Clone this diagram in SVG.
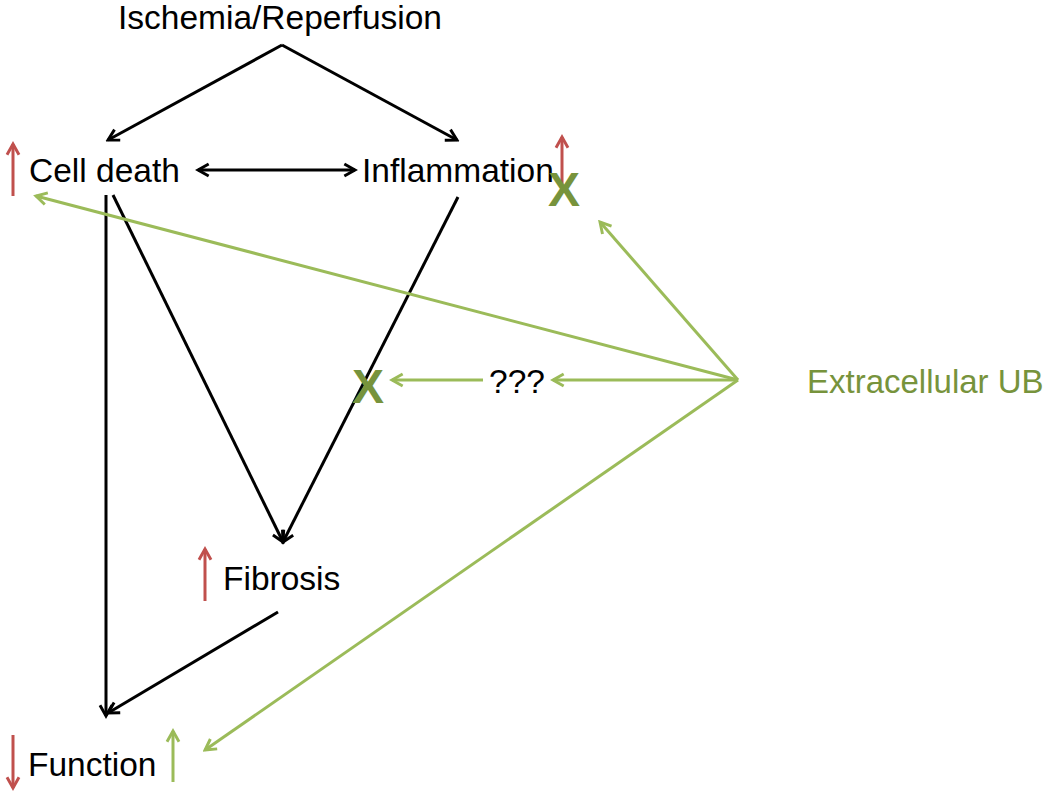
<svg xmlns="http://www.w3.org/2000/svg" width="1044" height="793" viewBox="0 0 1044 793">
<style>
text{font-family:"Liberation Sans",Arial,sans-serif;font-size:33.5px;fill:#000}
.k{stroke:#000;stroke-width:3;fill:none}
.g{stroke:#9bbb59;stroke-width:3;fill:none}
.r{stroke:#c0504d;stroke-width:3;fill:none}
.gx{fill:#77933c;font-weight:bold;font-size:48px}
.gt{fill:#77933c;font-size:33px}
</style>
<defs>
<marker id="ak" viewBox="0 0 12 12" refX="10" refY="6" markerWidth="16" markerHeight="16" markerUnits="userSpaceOnUse" orient="auto-start-reverse"><path d="M2,1.5 L10,6 L2,10.5" fill="none" stroke="#000" stroke-width="2.2"/></marker>
<marker id="ag" viewBox="0 0 12 12" refX="10" refY="6" markerWidth="16" markerHeight="16" markerUnits="userSpaceOnUse" orient="auto"><path d="M2,1.5 L10,6 L2,10.5" fill="none" stroke="#9bbb59" stroke-width="2.2"/></marker>
<marker id="ar" viewBox="0 0 12 12" refX="10" refY="6" markerWidth="16" markerHeight="16" markerUnits="userSpaceOnUse" orient="auto"><path d="M2,1.5 L10,6 L2,10.5" fill="none" stroke="#c0504d" stroke-width="2.2"/></marker>
</defs>
<g id="connectors">
<line class="k" x1="282" y1="45" x2="108" y2="140" marker-end="url(#ak)"/>
<line class="k" x1="282" y1="45" x2="457" y2="140" marker-end="url(#ak)"/>
<line class="k" x1="198" y1="170" x2="355" y2="170" marker-start="url(#ak)" marker-end="url(#ak)"/>
<line class="k" x1="106" y1="195" x2="106" y2="716" marker-end="url(#ak)"/>
<line class="k" x1="113" y1="195" x2="283" y2="542" marker-end="url(#ak)"/>
<line class="k" x1="458" y1="197" x2="283" y2="542" marker-end="url(#ak)"/>
<line class="k" x1="278" y1="612" x2="108" y2="713" marker-end="url(#ak)"/>
<line class="g" x1="738" y1="380" x2="36" y2="196" marker-end="url(#ag)"/>
<line class="g" x1="738" y1="380" x2="600" y2="222" marker-end="url(#ag)"/>
<line class="g" x1="738" y1="380" x2="553" y2="380" marker-end="url(#ag)"/>
<line class="g" x1="483" y1="380" x2="392" y2="380" marker-end="url(#ag)"/>
<line class="g" x1="738" y1="380" x2="205" y2="750" marker-end="url(#ag)"/>
</g>
<g id="ischemia"><text x="280" y="29" text-anchor="middle">Ischemia/Reperfusion</text></g>
<g id="celldeath">
<text x="29" y="182">Cell death</text>
<line class="r" x1="13" y1="196" x2="13" y2="144" marker-end="url(#ar)"/>
</g>
<g id="inflammation">
<text x="362" y="182">Inflammation</text>
<line class="r" x1="562" y1="190" x2="562" y2="137" marker-end="url(#ar)"/>
<text class="gx" x="564" y="206" text-anchor="middle">X</text>
</g>
<g id="block"><text class="gx" x="368" y="403" text-anchor="middle">X</text></g>
<g id="unknown"><text x="489" y="393">???</text></g>
<g id="extracellular"><text class="gt" x="807" y="393">Extracellular UB</text></g>
<g id="fibrosis">
<text x="223" y="590">Fibrosis</text>
<line class="r" x1="205" y1="601" x2="205" y2="549" marker-end="url(#ar)"/>
</g>
<g id="function">
<text x="28" y="776">Function</text>
<line class="r" x1="13" y1="735" x2="13" y2="788" marker-end="url(#ar)"/>
<line class="g" x1="173" y1="782" x2="173" y2="731" marker-end="url(#ag)"/>
</g>
</svg>
